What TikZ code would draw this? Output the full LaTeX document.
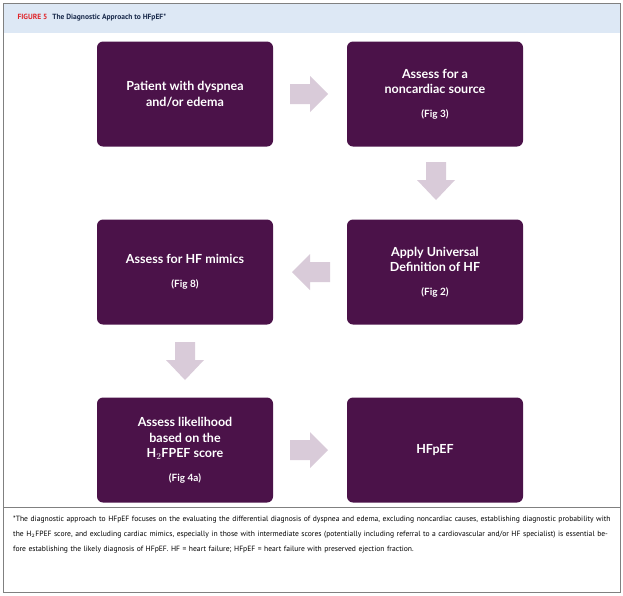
\documentclass[tikz,border=0pt]{standalone}
\usepackage{fontspec}
\setmainfont{Lato}
\newfontfamily\capfont{PT Sans}
\begin{document}
\begin{tikzpicture}[x=1pt,y=-1pt,
  box/.style={fill=boxc,rounded corners=6pt,minimum width=176pt,minimum height=105pt,text=white,align=center,font=\fontsize{12.5}{15.5}\selectfont\bfseries,inner sep=0pt},
  blk/.style={fill=arrc,draw=none}]
\definecolor{boxc}{HTML}{4B1249}
\definecolor{arrc}{HTML}{D9CBD9}
\definecolor{hdr}{HTML}{DDE8F5}
\definecolor{frm}{HTML}{808080}
\definecolor{figred}{HTML}{E0262B}
\definecolor{navy}{HTML}{1A2B4C}
\useasboundingbox (0,0) rectangle (623,595);
\fill[hdr] (3,3) rectangle (620,33);
\draw[frm,line width=1pt] (3,3) rectangle (620,592);
\draw[frm,line width=0.8pt] (3,507) -- (620,507);
\node[anchor=west,font=\capfont\fontsize{7.5}{9}\selectfont\bfseries] (hd) at (14,18) {\textcolor{figred}{FIGURE 5}\hspace{5pt}\textcolor{navy}{The Diagnostic Approach to HFpEF*}};
\node[box] (b1) at (185,94) {Patient with dyspnea\\and/or edema};
\node[box] (b2) at (435,94) {Assess for a\\noncardiac source\\[8pt]{\fontsize{10}{12}\selectfont (Fig 3)}};
\node[box] (b3) at (435,272) {Apply Universal\\Definition of HF\\[8pt]{\fontsize{10}{12}\selectfont (Fig 2)}};
\node[box] (b4) at (185,272) {Assess for HF mimics\\[8pt]{\fontsize{10}{12}\selectfont (Fig 8)}};
\node[box] (b5) at (185,450) {Assess likelihood\\based on the\\H$_2$FPEF score\\[8pt]{\fontsize{10}{12}\selectfont (Fig 4a)}};
\node[box] (b6) at (435,450) {HFpEF};
% right arrow b1->b2
\fill[blk] (290,84) -- (310,84) -- (310,76) -- (328,94) -- (310,112) -- (310,104) -- (290,104) -- cycle;
% down arrow b2->b3
\fill[blk] (426,162) -- (446,162) -- (446,180) -- (455,180) -- (436,200) -- (417,180) -- (426,180) -- cycle;
% left arrow b3->b4
\fill[blk] (330,262) -- (310,262) -- (310,254) -- (292,272) -- (310,290) -- (310,282) -- (330,282) -- cycle;
% down arrow b4->b5
\fill[blk] (175,342) -- (195,342) -- (195,360) -- (204,360) -- (185,380) -- (166,360) -- (175,360) -- cycle;
% right arrow b5->b6
\fill[blk] (290,440) -- (310,440) -- (310,432) -- (328,450) -- (310,468) -- (310,460) -- (290,460) -- cycle;
\node[anchor=north west,text width=598pt,align=left,font=\capfont\fontsize{7.6}{15}\selectfont,inner sep=0pt] (ft) at (13,516) {*The diagnostic approach to HFpEF focuses on the evaluating the differential diagnosis of dyspnea and edema, excluding noncardiac causes, establishing diagnostic probability with the H$_2$FPEF score, and excluding cardiac mimics, especially in those with intermediate scores (potentially including referral to a cardiovascular and/or HF specialist) is essential before establishing the likely diagnosis of HFpEF. HF = heart failure; HFpEF = heart failure with preserved ejection fraction.};
\end{tikzpicture}
\end{document}
